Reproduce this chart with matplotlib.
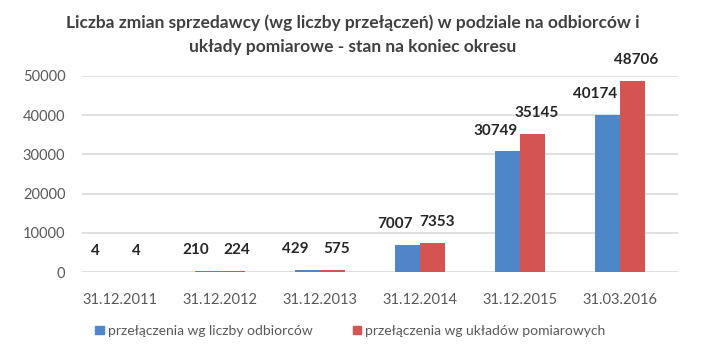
import matplotlib.pyplot as plt
import numpy as np
from matplotlib.patches import Patch

plt.rcParams['font.family'] = ['Lato', 'DejaVu Sans']

# Data
categories = ['31.12.2011', '31.12.2012', '31.12.2013', '31.12.2014', '31.12.2015', '31.03.2016']
odbiorcy = [4, 210, 429, 7007, 30749, 40174]
uklady = [4, 224, 575, 7353, 35145, 48706]
series_names = ['przełączenia wg liczby odbiorców', 'przełączenia wg układów pomiarowych']
yticks = [0, 10000, 20000, 30000, 40000, 50000]

blue = '#4F86C8'
red = '#D55452'
txt = '#595959'

fig = plt.figure(figsize=(7.05, 3.55), dpi=100)
ax = fig.add_axes([82/705, 1 - 272/355, 596/705, (272 - 76)/355])

x = np.arange(len(categories))
w = 0.25
ax.bar(x - w/2, odbiorcy, w, color=blue, zorder=3)
ax.bar(x + w/2, uklady, w, color=red, zorder=3)

# value labels (blue ones sit a bit to the left, like the 3D original)
for xi, v in zip(x, odbiorcy):
    ax.annotate(str(v), (xi - w/2 - 0.12, v), xytext=(0, 10), textcoords='offset points',
                ha='center', va='bottom', fontsize=11, fontweight='bold', color='#262626')
for xi, v in zip(x, uklady):
    ax.annotate(str(v), (xi + w/2 + 0.04, v), xytext=(0, 10), textcoords='offset points',
                ha='center', va='bottom', fontsize=11, fontweight='bold', color='#262626')

ax.set_xlim(-0.38, 5.58)
ax.set_ylim(0, 50000)
ax.set_yticks(yticks)
ax.set_yticklabels([str(t) for t in yticks], fontsize=10.5, color=txt)
ax.set_xticks(x)
ax.set_xticklabels(categories, fontsize=10.5, color=txt)
ax.tick_params(axis='y', length=0, pad=12)
ax.tick_params(axis='x', length=0, pad=15)
ax.grid(axis='y', color='#D9D9D9', linewidth=1.2, zorder=0)
for s in ax.spines.values():
    s.set_visible(False)

fig.text(0.5, 0.902, 'Liczba zmian sprzedawcy (wg liczby przełączeń) w podziale na odbiorców i\n'
         'układy pomiarowe - stan na koniec okresu', ha='center', va='center',
         fontsize=12.5, fontweight='bold', color='#404040', linespacing=1.6)

handles = [Patch(color=blue), Patch(color=red)]
fig.legend(handles, series_names, loc='center', bbox_to_anchor=(0.497, 0.068), ncol=2,
           frameon=False, fontsize=10, handlelength=0.6, handleheight=0.6, handletextpad=0.3,
           columnspacing=2.9, labelcolor=txt)

fig.savefig('out.png', dpi=100)
